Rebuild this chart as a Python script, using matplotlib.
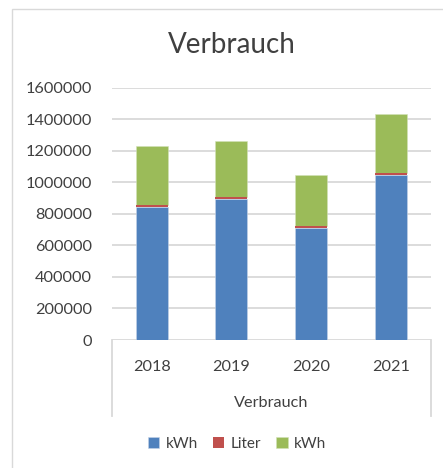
import matplotlib.pyplot as plt
from matplotlib.lines import Line2D
from matplotlib.patches import Rectangle

years = ["2018", "2019", "2020", "2021"]
kwh_1 = [843000, 893000, 711000, 1045000]
liter = [10000, 13000, 9000, 13000]
kwh_2 = [377000, 353000, 325000, 375000]
yticks = [0, 200000, 400000, 600000, 800000, 1000000, 1200000, 1400000, 1600000]

W, H = 443, 468
plt.rcParams["font.family"] = ["Lato", "DejaVu Sans"]
txt = "#404040"
grid = "#d9d9d9"

fig = plt.figure(figsize=(W / 100, H / 100), dpi=100)
# outer chart border
fig.add_artist(Rectangle((12 / W, -0.1), 1.2, 1 - 9 / H + 0.1, transform=fig.transFigure,
                         fill=False, edgecolor=grid, linewidth=1))

x0, x1, y0, y1 = 111.7, 431, 340, 87.7
ax = fig.add_axes([x0 / W, 1 - y0 / H, (x1 - x0) / W, (y0 - y1) / H])

pos = range(len(years))
bot2 = [a + b for a, b in zip(kwh_1, liter)]
ax.bar(pos, kwh_1, width=0.4, color="#4f81bd", edgecolor="#c6d4e8", linewidth=0.4, label="kWh", zorder=2)
ax.bar(pos, liter, width=0.4, bottom=kwh_1, color="#c0504d", linewidth=0, label="Liter", zorder=3)
ax.bar(pos, kwh_2, width=0.4, bottom=bot2, color="#9bbb59", edgecolor="#d2e2b8", linewidth=0.4, label="kWh", zorder=2)

ax.set_xlim(-0.5, 3.5)
ax.set_ylim(0, 1600000)
ax.set_yticks(yticks)
ax.set_yticklabels([str(v) for v in yticks], fontsize=11.7, color=txt)
ax.tick_params(axis="y", length=0, pad=14.4)
ax.set_xticks([])
ax.yaxis.grid(True, color=grid, linewidth=1.3, zorder=0)
for s in ax.spines.values():
    s.set_visible(False)

# category axis box
for xv in (x0, x1):
    fig.add_artist(Line2D([xv / W, xv / W], [1 - 340 / H, 1 - 416 / H], color=grid, linewidth=1.3))
for i, yr in enumerate(years):
    ax.text(i, -27 / (y0 - y1) * 1600000, yr, ha="center", va="center", fontsize=11.7, color=txt)
fig.text(271 / W, 1 - 403 / H, "Verbrauch", ha="center", va="center", fontsize=11.7, color=txt)

fig.text(232 / W, 1 - 45 / H, "Verbrauch", ha="center", va="center", fontsize=20, color=txt)

fig.legend(loc="center", bbox_to_anchor=(237 / W, 1 - 444 / H), ncol=3, frameon=False,
           fontsize=11, labelcolor=txt, handlelength=0.75, handleheight=0.75,
           handletextpad=0.4, columnspacing=1.0)

fig.savefig("out.png", dpi=100)
